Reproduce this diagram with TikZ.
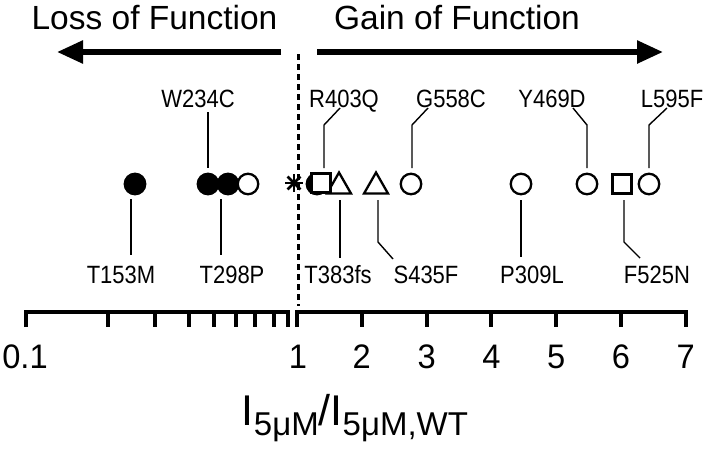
\documentclass[tikz,border=0pt]{standalone}
\usepackage{fontspec}
\setmainfont{Liberation Sans}
\newfontfamily\labfont[FakeStretch=0.88]{Liberation Sans}
\newfontfamily\tickfont[FakeStretch=0.96]{Liberation Sans}
\usetikzlibrary{arrows.meta}
\begin{document}
\begin{tikzpicture}[x=1pt,y=-1pt,
  head/.style={font=\fontsize{33.5}{33.5}\selectfont, inner sep=0pt, anchor=base},
  mut/.style={font=\labfont\fontsize{25}{25}\selectfont, inner sep=0pt, anchor=base},
  ticklab/.style={font=\tickfont\fontsize{34}{34}\selectfont, inner sep=0pt, anchor=base},
  lead/.style={line width=1.4pt},
  bigarrow/.style={line width=5.5pt, -{Triangle[length=26pt,width=22pt]}},
  axisline/.style={line width=4pt, line join=miter},
  ocirc/.style={circle, draw, line width=2.3pt, minimum size=20.5pt, inner sep=0pt, fill=white},
  fcirc/.style={circle, draw, line width=2.3pt, minimum size=20.5pt, inner sep=0pt, fill=black},
  osq/.style={rectangle, draw, line width=2.3pt, minimum size=19pt, inner sep=0pt, fill=white},
  tri/.style={line width=2.3pt, line join=miter, fill=white}
]
\useasboundingbox (0,0) rectangle (708,448);

% headings and arrows
\node[head] (loss) at (154.5,29) {Loss of Function};
\node[head] (gain) at (457,29) {Gain of Function};
\coordinate (la0) at (281,52); \coordinate (la1) at (57,52);
\coordinate (ra0) at (317,52); \coordinate (ra1) at (663,52);
\draw[bigarrow] (la0) -- (la1);
\draw[bigarrow] (ra0) -- (ra1);

% dashed line at 1
\coordinate (d0) at (298,54); \coordinate (d1) at (298,306);
\draw[line width=3pt, dash pattern=on 6pt off 4pt] (d0) -- (d1);

% axis
\draw[axisline] (26,327) -- (26,312) -- (288,312) -- (288,327);
\foreach \x in {108,155,189,214,236,255,274} \draw[axisline] (\x,312) -- (\x,327);
\draw[axisline] (297,327) -- (297,312) -- (685.8,312) -- (685.8,327);
\foreach \x in {361.8,426.6,491.4,556.2,621} \draw[axisline] (\x,312) -- (\x,327);

\node[ticklab] (t01) at (25,368) {0.1};
\node[ticklab] (t1) at (298,368) {1};
\node[ticklab] (t2) at (361.8,368) {2};
\node[ticklab] (t3) at (426.6,368) {3};
\node[ticklab] (t4) at (491.4,368) {4};
\node[ticklab] (t5) at (556.2,368) {5};
\node[ticklab] (t6) at (621,368) {6};
\node[ticklab] (t7) at (685.8,368) {7};

% axis title
\node[inner sep=0pt, anchor=base] (title) at (355,425) {\fontsize{43}{43}\selectfont I\raisebox{-10pt}{\fontsize{33}{33}\selectfont 5μM}/I\raisebox{-10pt}{\fontsize{33}{33}\selectfont 5μM,WT}};

% symbols
\node[fcirc] (s153) at (135,184) {};
\node[fcirc] (s234) at (208,184) {};
\node[fcirc] (s298) at (228,184) {};
\node[ocirc] (sx) at (248,184) {};
\node[fcirc] (shid) at (317,184) {};
\draw[tri] (339,172.5) -- (351,193.5) -- (327,193.5) -- cycle;
\node[osq] (s403) at (321,183) {};
\draw[tri] (376,172.5) -- (388,193.5) -- (364,193.5) -- cycle;
\node[ocirc] (s558) at (411,184) {};
\node[ocirc] (s309) at (521,184) {};
\node[ocirc] (s469) at (587,184) {};
\node[osq] (s525) at (622,184) {};
\node[ocirc] (s595) at (649,184) {};

% asterisk
\begin{scope}[shift={(294,183)}, line width=2.8pt]
  \draw (-9,0) -- (9,0);
  \draw (0,-9) -- (0,9);
  \draw (-6.4,-6.4) -- (6.4,6.4);
  \draw (-6.4,6.4) -- (6.4,-6.4);
\end{scope}

% top labels
\node[mut] (l234) at (198,107) {W234C};
\node[mut] (l403) at (344,107) {R403Q};
\node[mut] (l558) at (451,107) {G558C};
\node[mut] (l469) at (552,107) {Y469D};
\node[mut] (l595) at (672,107) {L595F};
\draw[lead] (208,112) -- (208,168);
\draw[lead] (340,108) -- (324,125) -- (324,168);
\draw[lead] (428,108) -- (412,125) -- (412,168);
\draw[lead] (573,108) -- (587,125) -- (587,168);
\draw[lead] (667,108) -- (649,125) -- (649,168);

% bottom labels
\node[mut] (l153) at (121,283) {T153M};
\node[mut] (l298) at (232,283) {T298P};
\node[mut] (l383) at (338,283) {T383fs};
\node[mut] (l435) at (426,283) {S435F};
\node[mut] (l309) at (532,283) {P309L};
\node[mut] (l525) at (657,283) {F525N};
\draw[lead] (131,199) -- (131,255);
\draw[lead] (221,199) -- (221,255);
\draw[lead] (340,200) -- (340,258);
\draw[lead] (378,200) -- (378,242) -- (393,259);
\draw[lead] (521,200) -- (521,257);
\draw[lead] (624,200) -- (624,242) -- (640,258);
\end{tikzpicture}
\end{document}
